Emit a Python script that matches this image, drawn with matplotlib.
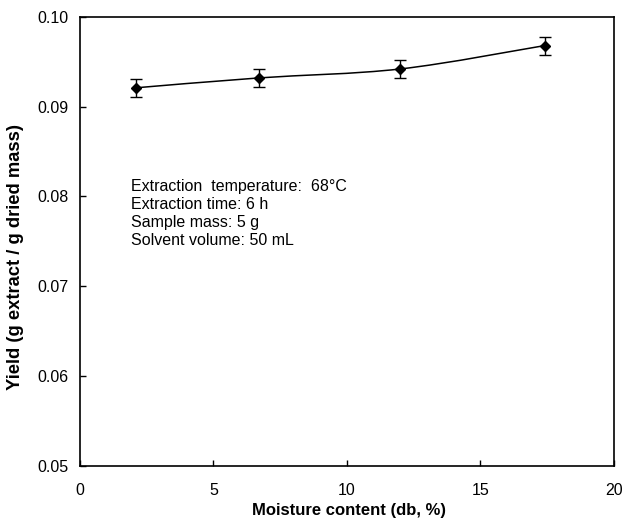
import numpy as np
import matplotlib
matplotlib.use("Agg")
import matplotlib.pyplot as plt
from matplotlib.path import Path
from matplotlib.patches import PathPatch

plt.rcParams['font.family'] = ['Liberation Sans', 'DejaVu Sans']

# data
moisture = [2.1, 6.7, 12.0, 17.4]
yield_val = [0.0921, 0.0932, 0.0942, 0.0968]
yield_err = [0.0010, 0.0010, 0.0010, 0.0010]

notes = ["Extraction  temperature:  68\u00b0C",
         "Extraction time: 6 h",
         "Sample mass: 5 g",
         "Solvent volume: 50 mL"]


def smooth_path(x, y, t=1/6):
    # Excel-like smoothed line: cubic bezier through the points
    x = np.asarray(x); y = np.asarray(y)
    verts = [(x[0], y[0])]
    codes = [Path.MOVETO]
    n = len(x)
    for i in range(n - 1):
        p0 = (x[max(i - 1, 0)], y[max(i - 1, 0)])
        p1 = (x[i], y[i])
        p2 = (x[i + 1], y[i + 1])
        p3 = (x[min(i + 2, n - 1)], y[min(i + 2, n - 1)])
        c1 = (p1[0] + (p2[0] - p0[0]) * t, p1[1] + (p2[1] - p0[1]) * t)
        c2 = (p2[0] - (p3[0] - p1[0]) * t, p2[1] - (p3[1] - p1[1]) * t)
        verts += [c1, c2, p2]
        codes += [Path.CURVE4] * 3
    return Path(verts, codes)


fig = plt.figure(figsize=(6.24, 5.27), dpi=100)
ax = fig.add_axes([0.128, 0.116, 0.856, 0.852])

ax.add_patch(PathPatch(smooth_path(moisture, yield_val), fill=False,
                       edgecolor='black', linewidth=1.1))
ax.errorbar(moisture, yield_val, yerr=yield_err, fmt='D', color='black',
            markersize=5, capsize=4.5, elinewidth=1, capthick=1)

ax.set_xlim(0, 20)
ax.set_ylim(0.05, 0.10)
ax.set_xticks([0, 5, 10, 15, 20])
ax.set_yticks([0.05, 0.06, 0.07, 0.08, 0.09, 0.10])
ax.set_yticklabels(["0.05", "0.06", "0.07", "0.08", "0.09", "0.10"])
ax.tick_params(direction='in', length=4, labelsize=11.5, width=1)
ax.tick_params(axis='x', pad=12)
ax.tick_params(axis='y', pad=8)
for s in ax.spines.values():
    s.set_linewidth(1.2)

ax.set_xlabel("Moisture content (db, %)", fontsize=12, fontweight='bold')
ax.set_ylabel("Yield (g extract / g dried mass)", fontsize=13.2, fontweight='bold')
ax.xaxis.set_label_coords(0.503, -0.082)
ax.yaxis.set_label_coords(-0.105, 0.466)

for i, line in enumerate(notes):
    ax.text(1.9, 0.0806 - i * 0.002, line, fontsize=11.5, va='baseline', ha='left')

fig.savefig("out.png", dpi=100)
